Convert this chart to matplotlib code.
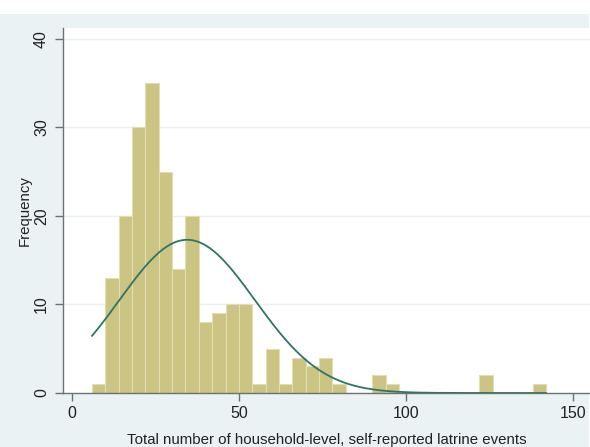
import numpy as np
import matplotlib
matplotlib.use("Agg")
import matplotlib.pyplot as plt
from matplotlib.patches import Rectangle

plt.rcParams['font.family'] = ['Liberation Sans', 'DejaVu Sans']

# Histogram: bins of width 4 starting at 6
bin_start = 6
bin_width = 4
counts = [1, 13, 20, 30, 35, 25, 14, 20, 8, 9, 10, 10, 1, 5, 1, 4, 3, 4, 1,
          0, 0, 2, 1, 0, 0, 0, 0, 0, 0, 2, 0, 0, 0, 1]

# Normal density overlay
curve_mean = 34.5
curve_sd = 20.3
n_obs = sum(counts)

x_ticks = [0, 50, 100, 150]
y_ticks = [0, 10, 20, 30, 40]
x_label = "Total number of household-level, self-reported latrine events"
y_label = "Frequency"

bg = "#eaf2f3"
bar_face = "#cbc483"
bar_edge = "#e2ddb3"
line_col = "#2f7566"
axis_col = "#6b7272"

W, H = 590, 447
fig = plt.figure(figsize=(W / 100, H / 100), dpi=100)
fig.patch.set_facecolor("white")
fig.patches.append(Rectangle((0, 0), 589 / W, 1 - 14 / H, transform=fig.transFigure,
                             facecolor=bg, edgecolor="none", zorder=-10))

left = 63 / W
bottom = 1 - 393 / H
top = 1 - 28 / H
ax = fig.add_axes([left, bottom, 1 - left, top - bottom])
ax.set_facecolor("white")

edges = bin_start + bin_width * np.arange(len(counts) + 1)
ax.bar(edges[:-1], counts, width=bin_width, align="edge",
       color=bar_face, edgecolor=bar_edge, linewidth=0.8, zorder=2)

xs = np.linspace(edges[0], edges[-1], 400)
dens = n_obs * bin_width / (curve_sd * np.sqrt(2 * np.pi)) * np.exp(-0.5 * ((xs - curve_mean) / curve_sd) ** 2)
ax.plot(xs, dens, color=line_col, linewidth=1.3, zorder=3)

ax.set_xlim(-2.7, 155.2)
ax.set_ylim(0, 41.2)

for y in y_ticks[1:]:
    ax.axhline(y, color=bg, linewidth=1.0, zorder=1)

ax.set_xticks(x_ticks)
ax.set_yticks(y_ticks)
ax.set_xticklabels([str(v) for v in x_ticks], fontsize=11.5)
ax.set_yticklabels([str(v) for v in y_ticks], fontsize=11.5, rotation=90, va="center")
ax.tick_params(axis="both", color=axis_col, length=6, width=1.0, labelcolor="#222222", pad=3)
ax.tick_params(axis="y", pad=4)

for s in ["top", "right"]:
    ax.spines[s].set_visible(False)
for s in ["left", "bottom"]:
    ax.spines[s].set_color(axis_col)
    ax.spines[s].set_linewidth(1.0)

ax.set_xlabel(x_label, fontsize=10.8, color="#222222", labelpad=9)
ax.set_ylabel(y_label, fontsize=10.8, color="#222222", labelpad=2)

fig.savefig("out.png", dpi=100, facecolor=fig.get_facecolor())
